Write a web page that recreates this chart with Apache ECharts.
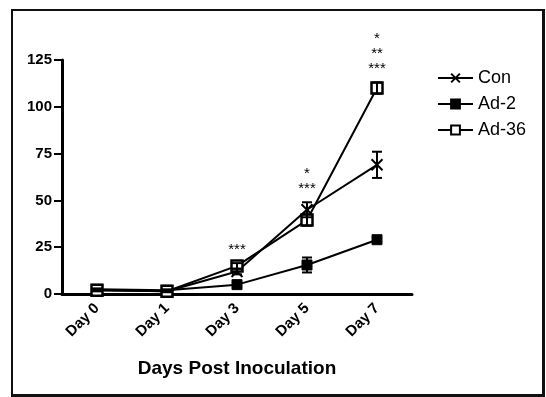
<!DOCTYPE html>
<html>
<head>
<meta charset="utf-8">
<script src="https://cdn.jsdelivr.net/npm/echarts@6/dist/echarts.min.js"></script>
<style>
  html, body { margin: 0; padding: 0; background: #fff; }
  #frame { position: absolute; left: 11px; top: 9px; width: 529px; height: 383px;
           border: 2px solid #111; border-right-width: 3px; border-bottom-width: 3px; }
  #main { position: absolute; left: 0; top: 0; width: 546px; height: 397px; }
</style>
</head>
<body>
<div id="frame"></div>
<div id="main"></div>
<script>
// categories and values
var days = ['Day 0', 'Day 1', 'Day 3', 'Day 5', 'Day 7'];
var conMean = [2, 1.5, 12, 45, 69];
var conErr = [0.5, 0.5, 1.5, 4, 7];
var ad2Mean = [2.5, 2, 5, 15.5, 29];
var ad2Err = [0.5, 0.5, 0.8, 4, 1];
var ad36Mean = [2, 1.5, 15, 39.5, 110];
var ad36Err = [0.5, 0.5, 1.5, 3, 3];
var stars = ['', '', '***', '*\n***', '*\n**\n***'];
var yTicks = [0, 25, 50, 75, 100, 125];

var myChart = echarts.init(document.getElementById('main'));

var font = 'Liberation Sans, Arial, sans-serif';

function errSeries(mean, err) {
    return {
        type: 'custom',
        silent: true,
        z: 5,
        data: mean.map(function (m, i) { return [i, m - err[i], m + err[i]]; }),
        renderItem: function (params, api) {
            var lo = api.coord([api.value(0), api.value(1)]);
            var hi = api.coord([api.value(0), api.value(2)]);
            var w = 5;
            var st = { stroke: '#000', lineWidth: 2 };
            return {
                type: 'group',
                children: [
                    { type: 'line', shape: { x1: lo[0], y1: lo[1], x2: hi[0], y2: hi[1] }, style: st },
                    { type: 'line', shape: { x1: lo[0] - w, y1: lo[1], x2: lo[0] + w, y2: lo[1] }, style: st },
                    { type: 'line', shape: { x1: hi[0] - w, y1: hi[1], x2: hi[0] + w, y2: hi[1] }, style: st }
                ]
            };
        }
    };
}

// top of the highest error bar at each day, used to place the significance marks
var tops = days.map(function (d, i) {
    return Math.max(conMean[i] + conErr[i], ad2Mean[i] + ad2Err[i], ad36Mean[i] + ad36Err[i]);
});

var option = {
    animation: false,
    textStyle: { fontFamily: font },
    grid: { left: 62, right: 134, top: 60, bottom: 103 },
    legend: {
        orient: 'vertical',
        left: 432,
        top: 64,
        itemGap: 8,
        itemWidth: 35,
        itemHeight: 11,
        textStyle: { fontSize: 18, color: '#000', fontFamily: font },
        data: ['Con', 'Ad-2', 'Ad-36']
    },
    xAxis: {
        type: 'category',
        data: days,
        boundaryGap: true,
        axisLine: { lineStyle: { color: '#000', width: 3 } },
        axisTick: { alignWithLabel: true, length: 7, lineStyle: { width: 2, color: '#000' } },
        axisLabel: { rotate: 45, fontSize: 15, fontWeight: 'bold', color: '#000', margin: 12 },
        name: 'Days Post Inoculation',
        nameLocation: 'middle',
        nameGap: 65,
        nameTextStyle: { fontSize: 19, fontWeight: 'bold', color: '#000' }
    },
    yAxis: {
        type: 'value',
        min: 0,
        max: 125,
        interval: 25,
        splitLine: { show: false },
        axisLine: { show: true, lineStyle: { color: '#000', width: 3 } },
        axisTick: { show: true, length: 8, lineStyle: { width: 2, color: '#000' } },
        axisLabel: {
            fontSize: 15, fontWeight: 'bold', color: '#000', margin: 10,
            formatter: function (v) { return yTicks.indexOf(v) >= 0 ? String(v) : ''; }
        }
    },
    series: [
        {
            name: 'Con',
            type: 'line',
            data: conMean,
            symbol: 'path://M0,0L10,10M10,0L0,10',
            symbolSize: 11,
            lineStyle: { color: '#000', width: 2 },
            itemStyle: { color: '#000', borderColor: '#000', borderWidth: 2 },
            z: 4
        },
        {
            name: 'Ad-2',
            type: 'line',
            data: ad2Mean,
            symbol: 'rect',
            symbolSize: 10,
            lineStyle: { color: '#000', width: 2 },
            itemStyle: { color: '#000', borderColor: '#000', borderWidth: 1 },
            z: 4
        },
        {
            name: 'Ad-36',
            type: 'line',
            data: ad36Mean,
            symbol: 'rect',
            symbolSize: 11,
            lineStyle: { color: '#000', width: 2 },
            itemStyle: { color: '#fff', borderColor: '#000', borderWidth: 2.5 },
            z: 4
        },
        errSeries(conMean, conErr),
        errSeries(ad2Mean, ad2Err),
        errSeries(ad36Mean, ad36Err),
        {
            type: 'custom',
            silent: true,
            z: 6,
            data: tops.map(function (t, i) { return [i, t, stars[i]]; }),
            renderItem: function (params, api) {
                var p = api.coord([api.value(0), api.value(1)]);
                var txt = stars[params.dataIndex];
                if (!txt) return null;
                return {
                    type: 'text',
                    style: {
                        x: p[0], y: p[1] - 6,
                        text: txt,
                        textAlign: 'center',
                        textVerticalAlign: 'bottom',
                        font: '15px ' + font,
                        lineHeight: 15,
                        fill: '#000'
                    }
                };
            }
        }
    ]
};

myChart.setOption(option);
</script>
</body>
</html>
